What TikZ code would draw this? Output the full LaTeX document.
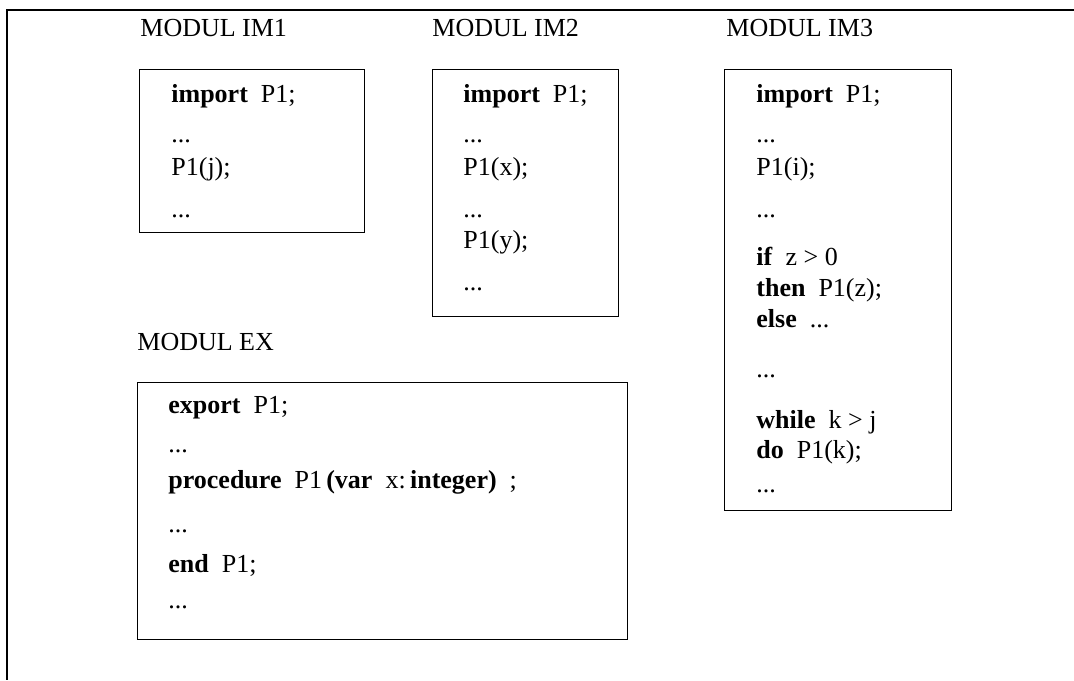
\documentclass[tikz,border=0pt]{standalone}
\usepackage{fontspec}
\setmainfont{Liberation Serif}

\begin{document}
\begin{tikzpicture}
[x=0.5pt,y=-0.5pt
,frame/.style={line width=1pt}
,box/.style={draw,anchor=north west,inner sep=0,line width=0.6pt}
,ttl/.style={anchor=base west,inner sep=0}
,ln/.style={anchor=base west,inner sep=0}
,font=\fontsize{13}{15}\selectfont]
\useasboundingbox (0,0) rectangle (1074,680);
\coordinate (fr) at (1074,10);
\coordinate (fl) at (7,680);
\draw[frame] (fr) -| (fl);

% module IM1
\node[ttl] (t1) at (140,36) {MODUL IM1};
\node[box,minimum width=112.5pt,minimum height=81.5pt] (m1) at (139,69) {};
\node[ln] (a1) at (171,102) {\textbf{import}\ \ P1;};
\node[ln] (a2) at (171,142) {...};
\node[ln] (a3) at (171,175) {P1(j);};
\node[ln] (a4) at (171,217) {...};

% module IM2
\node[ttl] (t2) at (432,36) {MODUL IM2};
\node[box,minimum width=93pt,minimum height=123.5pt] (m2) at (432,69) {};
\node[ln] (b1) at (463,102) {\textbf{import}\ \ P1;};
\node[ln] (b2) at (463,142) {...};
\node[ln] (b3) at (463,175) {P1(x);};
\node[ln] (b4) at (463,217) {...};
\node[ln] (b5) at (463,248) {P1(y);};
\node[ln] (b6) at (463,290) {...};

% module IM3
\node[ttl] (t3) at (726,36) {MODUL IM3};
\node[box,minimum width=113.5pt,minimum height=220.5pt] (m3) at (724,69) {};
\node[ln] (c1) at (756,102) {\textbf{import}\ \ P1;};
\node[ln] (c2) at (756,142) {...};
\node[ln] (c3) at (756,175) {P1(i);};
\node[ln] (c4) at (756,217) {...};
\node[ln] (c5) at (756,265) {\textbf{if}\ \ z > 0};
\node[ln] (c6) at (756,296) {\textbf{then}\ \ P1(z);};
\node[ln] (c7) at (756,327) {\textbf{else}\ \ ...};
\node[ln] (c8) at (756,377) {...};
\node[ln] (c9) at (756,428) {\textbf{while}\ \ k > j};
\node[ln] (c10) at (756,458) {\textbf{do}\ \ P1(k);};
\node[ln] (c11) at (756,492) {...};

% module EX
\node[ttl] (t4) at (137,350) {MODUL EX};
\node[box,minimum width=245pt,minimum height=128.5pt] (m4) at (137,382) {};
\node[ln] (d1) at (168,413) {\textbf{export}\ \ P1;};
\node[ln] (d2) at (168,452) {...};
\node[ln] (d3) at (168,488) {\textbf{procedure}\ \ P1\,\textbf{(var}\ \ x:\,\textbf{integer)}\ \ ;};
\node[ln] (d4) at (168,532) {...};
\node[ln] (d5) at (168,572) {\textbf{end}\ \ P1;};
\node[ln] (d6) at (168,608) {...};
\end{tikzpicture}
\end{document}
